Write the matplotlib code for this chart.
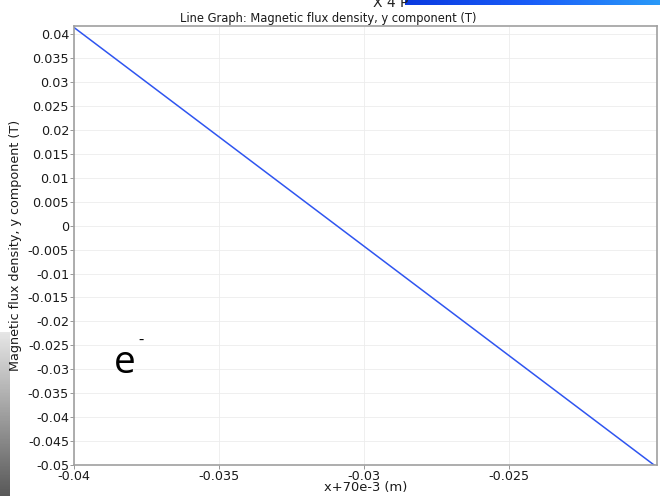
import matplotlib.pyplot as plt
from matplotlib.colors import LinearSegmentedColormap
import numpy as np

# Line graph: By along a cut line (x shifted by +70e-3 m)
x_pos = [-0.04, -0.03, -0.02]
by_tesla = [0.0414, -0.0043, -0.05]

x_ticks = [-0.04, -0.035, -0.03, -0.025]
y_ticks = [0.04, 0.035, 0.03, 0.025, 0.02, 0.015, 0.01, 0.005, 0,
           -0.005, -0.01, -0.015, -0.02, -0.025, -0.03, -0.035, -0.04, -0.045, -0.05]

plt.rcParams['font.family'] = 'DejaVu Sans'

fig = plt.figure(figsize=(6.6, 4.96), dpi=100)

# grey shading at lower left edge (drawn first so the axis label sits on top)
sh_ax = fig.add_axes([0.0, 0.0, 0.015, 0.33])
shade = np.linspace(0.9, 0.35, 100).reshape(-1, 1)
sh_ax.imshow(shade, aspect='auto', cmap='gray', vmin=0, vmax=1)
sh_ax.axis('off')

ax = fig.add_axes([0.1121, 0.0625, 0.8833, 0.885])

ax.plot(x_pos, by_tesla, color='#2f55f0', lw=1.1)
ax.set_xlim(-0.04, -0.0199)
ax.set_ylim(-0.05, 0.0417)

ax.set_xticks(x_ticks)
ax.set_xticklabels([f"{v:g}" for v in x_ticks])
ax.set_yticks(y_ticks)
ax.set_yticklabels([f"{v:g}" for v in y_ticks])
ax.tick_params(labelsize=9.2, length=3, width=0.6, color='#888888',
               labelcolor='#1a1a1a', pad=0.5)
ax.grid(True, color='#ececec', lw=0.6)
for s in ax.spines.values():
    s.set_color('#a0a0a0')
    s.set_linewidth(1.2)

ax.set_title('Line Graph: Magnetic flux density, y component (T)',
             fontsize=8.3, pad=3, x=0.436, color='#1a1a1a')
ax.set_xlabel('x+70e-3 (m)', fontsize=9.4, labelpad=-1.5, color='#1a1a1a')
ax.set_ylabel('Magnetic flux density, y component (T)', fontsize=9.2,
              labelpad=4, color='#1a1a1a')

# electron label
fig.text(0.172, 0.248, 'e', fontsize=28, family='Open Sans', color='black',
         va='baseline')
fig.text(0.210, 0.304, '-', fontsize=12, family='Open Sans', color='black',
         va='baseline')

# blue colour bar strip at the top right
grad = np.linspace(0, 1, 256).reshape(1, -1)
bar_ax = fig.add_axes([0.613, 0.989, 0.387, 0.011])
bar_ax.imshow(grad, aspect='auto', cmap=LinearSegmentedColormap.from_list(
    'b', ['#0a3ae0', '#1a5ef8', '#2a9af8']))
bar_ax.axis('off')
fig.text(0.565, 0.985, 'X 4 P', fontsize=10, color='#222222')

fig.savefig('out.png', dpi=100)
